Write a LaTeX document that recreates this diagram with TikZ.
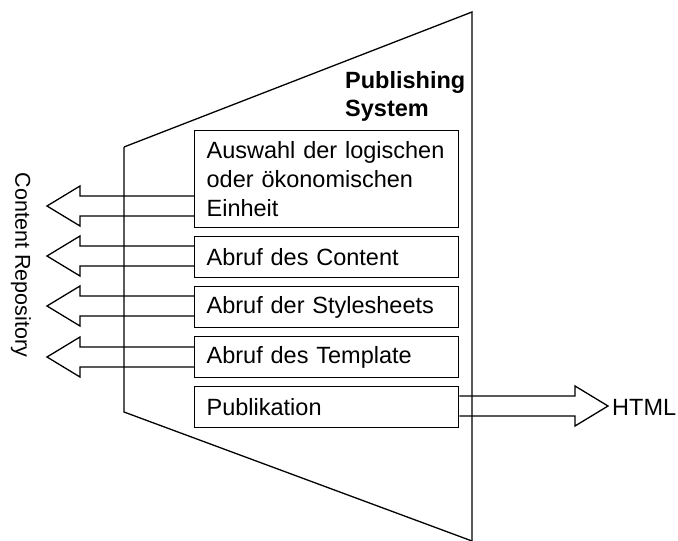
\documentclass[tikz,border=0pt]{standalone}
\usepackage{fontspec}
\setmainfont{Liberation Sans}
\usetikzlibrary{calc}

\begin{document}
\begin{tikzpicture}[x=1pt,y=-1pt,
  outline/.style={line width=1.3pt, line join=miter},
  stepbox/.style={draw, line width=1.3pt, anchor=north west, minimum width=264pt,
    minimum height=41pt, inner xsep=12pt, text width=240pt, align=left,
    font=\fontsize{23.5}{29}\selectfont},
  label/.style={font=\fontsize{23.5}{29}\selectfont, inner sep=0pt},
  blockline/.style={line width=1.3pt, line join=miter},
  % block arrow pointing from the start coordinate to the target on its left
  leftblock/.style={to path={
    ([yshift=10pt]\tikztostart) -- ([xshift=33pt,yshift=10pt]\tikztotarget)
    -- ([xshift=33pt,yshift=20pt]\tikztotarget) -- (\tikztotarget)
    -- ([xshift=33pt,yshift=-20pt]\tikztotarget) -- ([xshift=33pt,yshift=-10pt]\tikztotarget)
    -- ([yshift=-10pt]\tikztostart)}},
  % block arrow pointing from the start coordinate to the target on its right
  rightblock/.style={to path={
    ([yshift=10pt]\tikztostart) -- ([xshift=-33pt,yshift=10pt]\tikztotarget)
    -- ([xshift=-33pt,yshift=20pt]\tikztotarget) -- (\tikztotarget)
    -- ([xshift=-33pt,yshift=-20pt]\tikztotarget) -- ([xshift=-33pt,yshift=-10pt]\tikztotarget)
    -- ([yshift=-10pt]\tikztostart)}}
]
\useasboundingbox (0,0) rectangle (678,541);

% arrow tips
\coordinate (t1) at (47,206);
\coordinate (t2) at (47,256);
\coordinate (t3) at (47,306);
\coordinate (t4) at (47,357);
\coordinate (t5) at (608,406);

% process steps
\node[stepbox, minimum height=97pt] (b1) at (194,130) {Auswahl der logischen oder ökonomischen Einheit};
\node[stepbox] (b2) at (194,236) {Abruf des Content};
\node[stepbox] (b3) at (194,286) {Abruf der Stylesheets};
\node[stepbox] (b4) at (194,336) {Abruf des Template};
\node[stepbox] (b5) at (194,386) {Publikation};

% arrow roots on the box edges
\coordinate (s1) at (b1.west |- t1);
\coordinate (s2) at (b2.west |- t2);
\coordinate (s3) at (b3.west |- t3);
\coordinate (s4) at (b4.west |- t4);
\coordinate (s5) at (b5.east |- t5);

\draw[blockline] (s1) to[leftblock] (t1);
\draw[blockline] (s2) to[leftblock] (t2);
\draw[blockline] (s3) to[leftblock] (t3);
\draw[blockline] (s4) to[leftblock] (t4);
\draw[blockline] (s5) to[rightblock] (t5);

% publishing system outline
\draw[outline] (124,147) -- (472,12) -- (472,541);
\draw[outline] (124,147) -- (124,412) -- (472,541);

\node[anchor=north west, inner sep=0pt, align=left,
      font=\fontsize{23.5}{28}\bfseries\selectfont] (ps) at (345,71) {Publishing\\System};

\node[label, anchor=west] (html) at (612,407) {HTML};
\node[label, font=\fontsize{21.5}{27}\selectfont, rotate=-90] (repo) at (21,265) {Content Repository};
\end{tikzpicture}
\end{document}
